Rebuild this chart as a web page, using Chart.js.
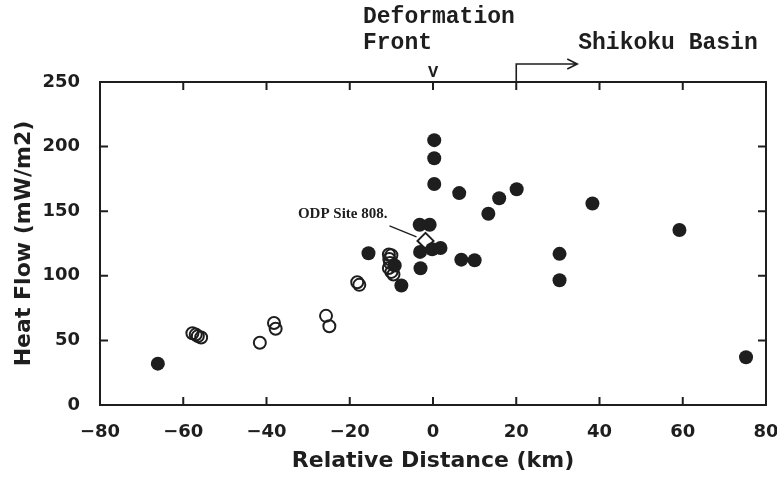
<!DOCTYPE html>
<html>
<head>
<meta charset="utf-8">
<script src="https://cdn.jsdelivr.net/npm/chart.js@4/dist/chart.umd.min.js"></script>
<style>
  html, body { margin: 0; padding: 0; background: #fff; }
  #wrap { width: 777px; height: 477px; }
</style>
</head>
<body>
<div id="wrap"><canvas id="myChart" width="777" height="477"></canvas></div>
<script>
'use strict';

// DATA
let xTickVals = [-80, -60, -40, -20, 0, 20, 40, 60, 80];
let yTickVals = [0, 50, 100, 150, 200, 250];

// filled circles
let filledX = [-66.1, -15.5, -9.2, -7.6, -3.0, -3.1, -3.2, -0.8, -0.2, 1.8, 0.3, 0.3, 0.3, 6.3, 6.8, 10.0, 13.3, 15.9, 20.1, 30.4, 30.4, 38.3, 59.2, 75.2];
let filledY = [32, 117.5, 108, 92.5, 105.8, 118.5, 139.5, 139.5, 120.5, 121.5, 205, 191, 171, 164, 112.5, 112, 148, 160, 167, 117, 96.5, 156, 135.5, 37];

// open circles
let openX = [-57.8, -57.0, -56.5, -55.7, -41.6, -38.2, -37.8, -25.7, -24.9, -18.2, -17.7, -10.6, -10.0, -10.5, -10.3, -10.6, -10.0, -9.5];
let openY = [55.5, 54.5, 53.3, 52.3, 48.2, 63.5, 59, 69, 61, 95, 93, 116.5, 116, 113, 110, 106, 103, 101];

// ODP site 808
let odpX = [-1.8];
let odpY = [127];

function toPoints(xs, ys) {
  let pts = [];
  for (let i = 0; i < xs.length; i++) {
    pts.push({ x: xs[i], y: ys[i] });
  }
  return pts;
}

let ink = '#1e1e1e';

// frame + inward tick marks
const framePlugin = {
  id: 'frame',
  afterDatasetsDraw(chart) {
    const { ctx, chartArea: a, scales } = chart;
    ctx.save();
    ctx.strokeStyle = ink;
    ctx.lineWidth = 2;
    ctx.strokeRect(a.left, a.top, a.right - a.left, a.bottom - a.top);
    ctx.beginPath();
    for (let i = 1; i < xTickVals.length - 1; i++) {
      let px = scales.x.getPixelForValue(xTickVals[i]);
      ctx.moveTo(px, a.bottom); ctx.lineTo(px, a.bottom - 8);
      ctx.moveTo(px, a.top); ctx.lineTo(px, a.top + 8);
    }
    for (let i = 1; i < yTickVals.length - 1; i++) {
      let py = scales.y.getPixelForValue(yTickVals[i]);
      ctx.moveTo(a.left, py); ctx.lineTo(a.left + 8, py);
      ctx.moveTo(a.right, py); ctx.lineTo(a.right - 8, py);
    }
    ctx.stroke();
    ctx.restore();
  }
};

// text notes above the plot and the ODP label
const notesPlugin = {
  id: 'notes',
  afterDraw(chart) {
    const { ctx, chartArea: a, scales } = chart;
    let x0 = scales.x.getPixelForValue(0);
    let x20 = scales.x.getPixelForValue(20);
    ctx.save();
    ctx.fillStyle = ink;
    ctx.strokeStyle = ink;
    ctx.textBaseline = 'middle';
    ctx.textAlign = 'left';
    ctx.font = 'bold 23px "Liberation Mono"';
    ctx.fillText('Deformation', x0 - 70, 17);
    ctx.fillText('Front', x0 - 70, 43);
    ctx.fillText('Shikoku Basin', x20 + 62, 43);
    ctx.textAlign = 'center';
    ctx.font = 'bold 17px "Liberation Mono"';
    ctx.fillText('V', x0, 73);

    // bracket arrow
    ctx.lineWidth = 1.6;
    ctx.beginPath();
    ctx.moveTo(x20, a.top);
    ctx.lineTo(x20, 64);
    ctx.lineTo(x20 + 61, 64);
    ctx.moveTo(x20 + 51, 59);
    ctx.lineTo(x20 + 61, 64);
    ctx.lineTo(x20 + 51, 69);
    ctx.stroke();

    // ODP label + leader
    let ox = scales.x.getPixelForValue(odpX[0]);
    let oy = scales.y.getPixelForValue(odpY[0]);
    ctx.textAlign = 'right';
    ctx.font = 'bold 15px "Liberation Serif"';
    ctx.fillText('ODP Site 808.', ox - 38, oy - 27);
    ctx.lineWidth = 1.3;
    ctx.beginPath();
    ctx.moveTo(ox - 36, oy - 15);
    ctx.lineTo(ox - 9, oy - 4);
    ctx.stroke();
    ctx.restore();
  }
};

const ctx = document.getElementById('myChart').getContext('2d');
const myChart = new Chart(ctx, {
  type: 'scatter',
  data: {
    datasets: [{
      label: 'open',
      data: toPoints(openX, openY),
      pointStyle: 'circle',
      pointRadius: 6,
      backgroundColor: 'rgba(0,0,0,0)',
      borderColor: ink,
      borderWidth: 2
    },
    {
      label: 'filled',
      data: toPoints(filledX, filledY),
      pointStyle: 'circle',
      pointRadius: 7,
      backgroundColor: ink,
      borderColor: ink,
      borderWidth: 0
    },
    {
      label: 'ODP',
      data: toPoints(odpX, odpY),
      pointStyle: 'rectRot',
      pointRadius: 8,
      backgroundColor: '#fff',
      borderColor: ink,
      borderWidth: 2
    }]
  },
  options: {
    responsive: false,
    animation: false,
    events: [],
    layout: { padding: { left: 0, right: 0, top: 82, bottom: 0 } },
    plugins: {
      legend: { display: false },
      tooltip: { enabled: false }
    },
    scales: {
      x: {
        type: 'linear',
        min: -80,
        max: 80,
        afterBuildTicks: (s) => { s.ticks = xTickVals.map(v => ({ value: v })); },
        afterFit: (s) => {
          s.height = 72;
          s.paddingLeft = 0;
          s.paddingRight = 11;
        },
        grid: { display: false },
        border: { display: false },
        ticks: {
          color: ink,
          padding: 9,
          maxRotation: 0,
          autoSkip: false,
          font: { family: 'DejaVu Sans', weight: 'bold', size: 18 },
          callback: (v) => (v < 0 ? '\u2212' + Math.abs(v) : String(v))
        },
        title: {
          display: true,
          text: 'Relative Distance (km)',
          color: ink,
          padding: { top: 0, bottom: 3 },
          font: { family: 'DejaVu Sans', weight: 'bold', size: 22 }
        }
      },
      y: {
        type: 'linear',
        min: 0,
        max: 250,
        afterBuildTicks: (s) => { s.ticks = yTickVals.map(v => ({ value: v })); },
        afterFit: (s) => { s.width = 100; },
        grid: { display: false },
        border: { display: false },
        ticks: {
          color: ink,
          padding: 12,
          autoSkip: false,
          font: { family: 'DejaVu Sans', weight: 'bold', size: 18 }
        },
        title: {
          display: true,
          text: 'Heat Flow (mW/m2)',
          color: ink,
          padding: { top: 11, bottom: 0 },
          font: { family: 'DejaVu Sans', weight: 'bold', size: 22 }
        }
      }
    }
  },
  plugins: [framePlugin, notesPlugin]
});
</script>
</body>
</html>
